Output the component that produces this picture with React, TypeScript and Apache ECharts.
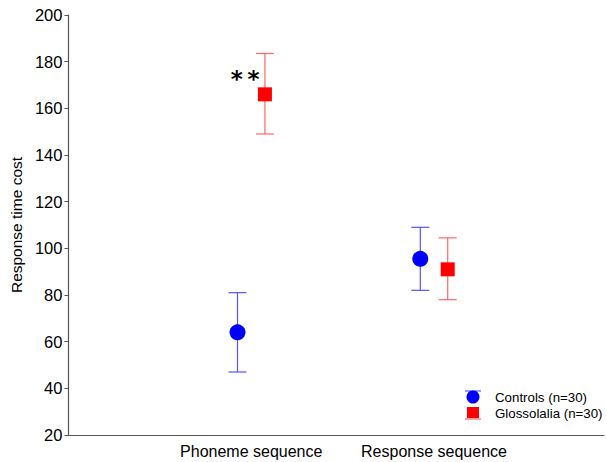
import React, { useEffect, useRef } from "react";
import * as echarts from "echarts";

const categories = ["Phoneme sequence", "Response sequence"];
const controlsMean = [64, 95.5];
const controlsLow = [47, 82];
const controlsHigh = [81, 109];
const glossMean = [166, 91];
const glossLow = [149, 78];
const glossHigh = [183.5, 104.5];
const yTicks = { min: 20, max: 200, interval: 20 };
const seriesNames = ["Controls (n=30)", "Glossolalia (n=30)"];
const offset = 0.075;

function errorBarSeries(name: string, xs: number[], lows: number[], highs: number[], color: string) {
  return {
    type: "custom",
    name,
    silent: true,
    z: 1,
    data: xs.map((x, i) => [x, lows[i], highs[i]]),
    renderItem: (params: any, api: any) => {
      const x = api.value(0);
      const lo = api.coord([x, api.value(1)]);
      const hi = api.coord([x, api.value(2)]);
      const half = 9;
      const style = { stroke: color, lineWidth: 1.2 };
      return {
        type: "group",
        children: [
          { type: "line", shape: { x1: lo[0], y1: lo[1], x2: hi[0], y2: hi[1] }, style },
          { type: "line", shape: { x1: lo[0] - half, y1: lo[1], x2: lo[0] + half, y2: lo[1] }, style },
          { type: "line", shape: { x1: hi[0] - half, y1: hi[1], x2: hi[0] + half, y2: hi[1] }, style },
        ],
      };
    },
  };
}

export default function App() {
  const ref = useRef<HTMLDivElement>(null);
  useEffect(() => {
    if (!ref.current) return;
    const chart = echarts.init(ref.current, undefined, { renderer: "svg" });
    const ctrlX = categories.map((_, i) => i + 1 - offset);
    const glossX = categories.map((_, i) => i + 1 + offset);
    const font = "Liberation Sans, Arial, sans-serif";
    chart.setOption({
      animation: false,
      textStyle: { fontFamily: font },
      grid: { left: 67, right: 3, top: 15, bottom: 27, containLabel: false },
      xAxis: {
        type: "value",
        min: 0,
        max: 2.93,
        interval: 1,
        axisLine: { show: true, lineStyle: { color: "#555", width: 1.2 } },
        axisTick: { show: false },
        splitLine: { show: false },
        axisLabel: {
          color: "#000",
          fontSize: 16,
          margin: 8,
          formatter: (v: number) => (categories[Math.round(v) - 1] !== undefined && Math.abs(v - Math.round(v)) < 1e-6 ? categories[Math.round(v) - 1] : ""),
        },
      },
      yAxis: {
        type: "value",
        min: yTicks.min,
        max: yTicks.max,
        interval: yTicks.interval,
        name: "Response time cost",
        nameLocation: "middle",
        nameGap: 43,
        nameTextStyle: { color: "#000", fontSize: 15.5, fontFamily: font },
        axisLine: { show: true, lineStyle: { color: "#555", width: 1.2 } },
        axisTick: { show: true, inside: false, length: 4, lineStyle: { color: "#555" } },
        splitLine: { show: false },
        axisLabel: { color: "#000", fontSize: 16.5, margin: 6 },
      },
      series: [
        errorBarSeries(seriesNames[0], ctrlX, controlsLow, controlsHigh, "#5555ff"),
        errorBarSeries(seriesNames[1], glossX, glossLow, glossHigh, "#ff6666"),
        {
          type: "scatter",
          name: seriesNames[0],
          z: 3,
          symbol: "circle",
          symbolSize: 16,
          itemStyle: { color: "#0000ff", opacity: 1 },
          data: ctrlX.map((x, i) => [x, controlsMean[i]]),
        },
        {
          type: "scatter",
          name: seriesNames[1],
          z: 3,
          symbol: "rect",
          symbolSize: 14,
          itemStyle: { color: "#ff0000", opacity: 1 },
          data: glossX.map((x, i) => [x, glossMean[i]]),
          markPoint: {
            symbol: "circle",
            symbolSize: 0,
            data: [{ coord: [0.967, 172.5], value: "**" }],
            label: {
              show: true,
              position: "inside",
              formatter: "*\u2009*",
              color: "#000",
              fontSize: 23,
              fontWeight: "bold",
              fontFamily: "DejaVu Sans, sans-serif",
            },
          },
        },
      ],
      graphic: [
        { type: "line", shape: { x1: 465, y1: 391, x2: 481, y2: 391 }, style: { stroke: "#5555ff", lineWidth: 1.2 } },
        { type: "circle", shape: { cx: 473, cy: 397, r: 6.5 }, style: { fill: "#0000ff" } },
        { type: "text", x: 495, y: 397, style: { text: seriesNames[0], fontSize: 13.3, fill: "#000", fontFamily: font, verticalAlign: "middle" } },
        { type: "rect", shape: { x: 467, y: 407, width: 12, height: 11 }, style: { fill: "#ff0000" } },
        { type: "line", shape: { x1: 465, y1: 419, x2: 481, y2: 419 }, style: { stroke: "#ff6666", lineWidth: 1.2 } },
        { type: "text", x: 495, y: 413, style: { text: seriesNames[1], fontSize: 13.3, fill: "#000", fontFamily: font, verticalAlign: "middle" } },
      ],
    });
    return () => chart.dispose();
  }, []);
  return <div ref={ref} style={{ width: 607, height: 462, position: "absolute", left: 0, top: 0 }} />;
}
